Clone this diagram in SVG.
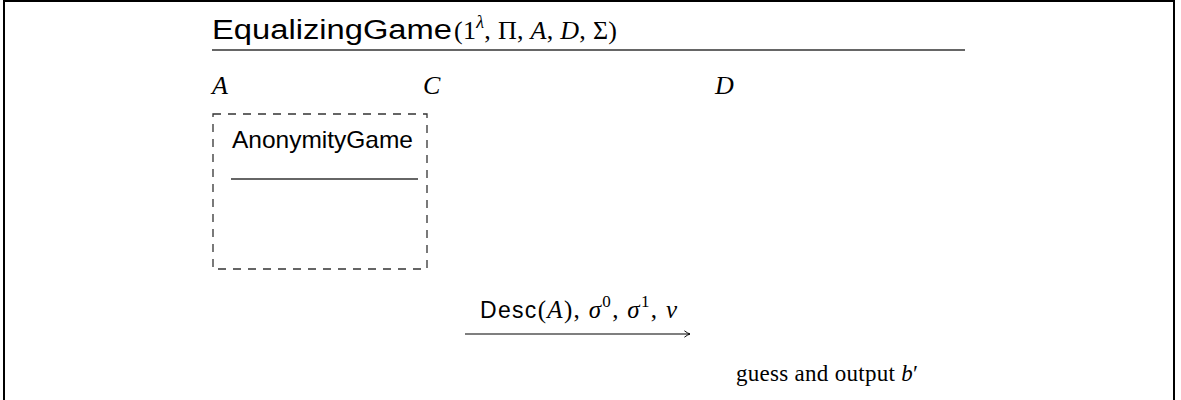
<svg xmlns="http://www.w3.org/2000/svg" width="1181" height="400" viewBox="0 0 1181 400">
<defs>
<style>
.frame{fill:none;stroke:#000;stroke-width:2}
.rule{stroke:#333;stroke-width:1.3}
.sans{font-family:"Liberation Sans","DejaVu Sans",sans-serif;fill:#000}
.serif{font-family:"Liberation Serif","DejaVu Serif",serif;fill:#000}
.it{font-style:italic}
.dash{fill:none;stroke:#333;stroke-width:1.3;stroke-dasharray:8 7}
.conn{fill:none;stroke:#000;stroke-width:1.2}
</style>
<marker id="arr" viewBox="0 0 10 10" refX="9" refY="5" markerWidth="8" markerHeight="8" markerUnits="userSpaceOnUse" orient="auto">
<path d="M2,1 Q6,4 9,5 Q6,6 2,9" fill="none" stroke="#000" stroke-width="1.2"/>
</marker>
</defs>
<rect width="1181" height="400" fill="#fff"/>
<rect class="frame" x="4" y="1" width="1170" height="420"/>

<g id="title">
<text x="212" y="39" class="sans" font-size="27" textLength="240" lengthAdjust="spacingAndGlyphs">EqualizingGame</text>
<text x="454" y="39" class="serif" font-size="26" textLength="163" lengthAdjust="spacing">(1<tspan class="it" font-size="18" dy="-11">λ</tspan><tspan dy="11">, Π, </tspan><tspan class="it">A</tspan>, <tspan class="it">D</tspan>, Σ)</text>
<line class="rule" x1="212" y1="50" x2="965" y2="50"/>
</g>

<g id="party-A"><text x="212" y="94" class="serif it" font-size="26">A</text></g>
<g id="party-C"><text x="423" y="94" class="serif it" font-size="26">C</text></g>
<g id="party-D"><text x="715" y="94" class="serif it" font-size="26">D</text></g>

<g id="anonymity-game">
<rect class="dash" x="213" y="114" width="214" height="155"/>
<text x="232" y="148" class="sans" font-size="24" textLength="181" lengthAdjust="spacingAndGlyphs">AnonymityGame</text>
<line class="rule" x1="231" y1="179" x2="418" y2="179"/>
</g>

<g id="connectors">
<line class="conn" x1="465" y1="334" x2="690" y2="334" marker-end="url(#arr)"/>
</g>

<g id="msg-label">
<text x="480" y="318" class="serif" font-size="25" textLength="197" lengthAdjust="spacing"><tspan class="sans" font-size="23">Desc</tspan>(<tspan class="it">A</tspan>), <tspan class="it">σ</tspan><tspan font-size="17" dy="-11">0</tspan><tspan dy="11">, </tspan><tspan class="it">σ</tspan><tspan font-size="17" dy="-11">1</tspan><tspan dy="11">, </tspan><tspan class="it">v</tspan></text>
</g>

<g id="guess">
<text x="736" y="381" class="serif" font-size="23" textLength="182" lengthAdjust="spacing">guess and output <tspan class="it">b</tspan>′</text>
</g>
</svg>
